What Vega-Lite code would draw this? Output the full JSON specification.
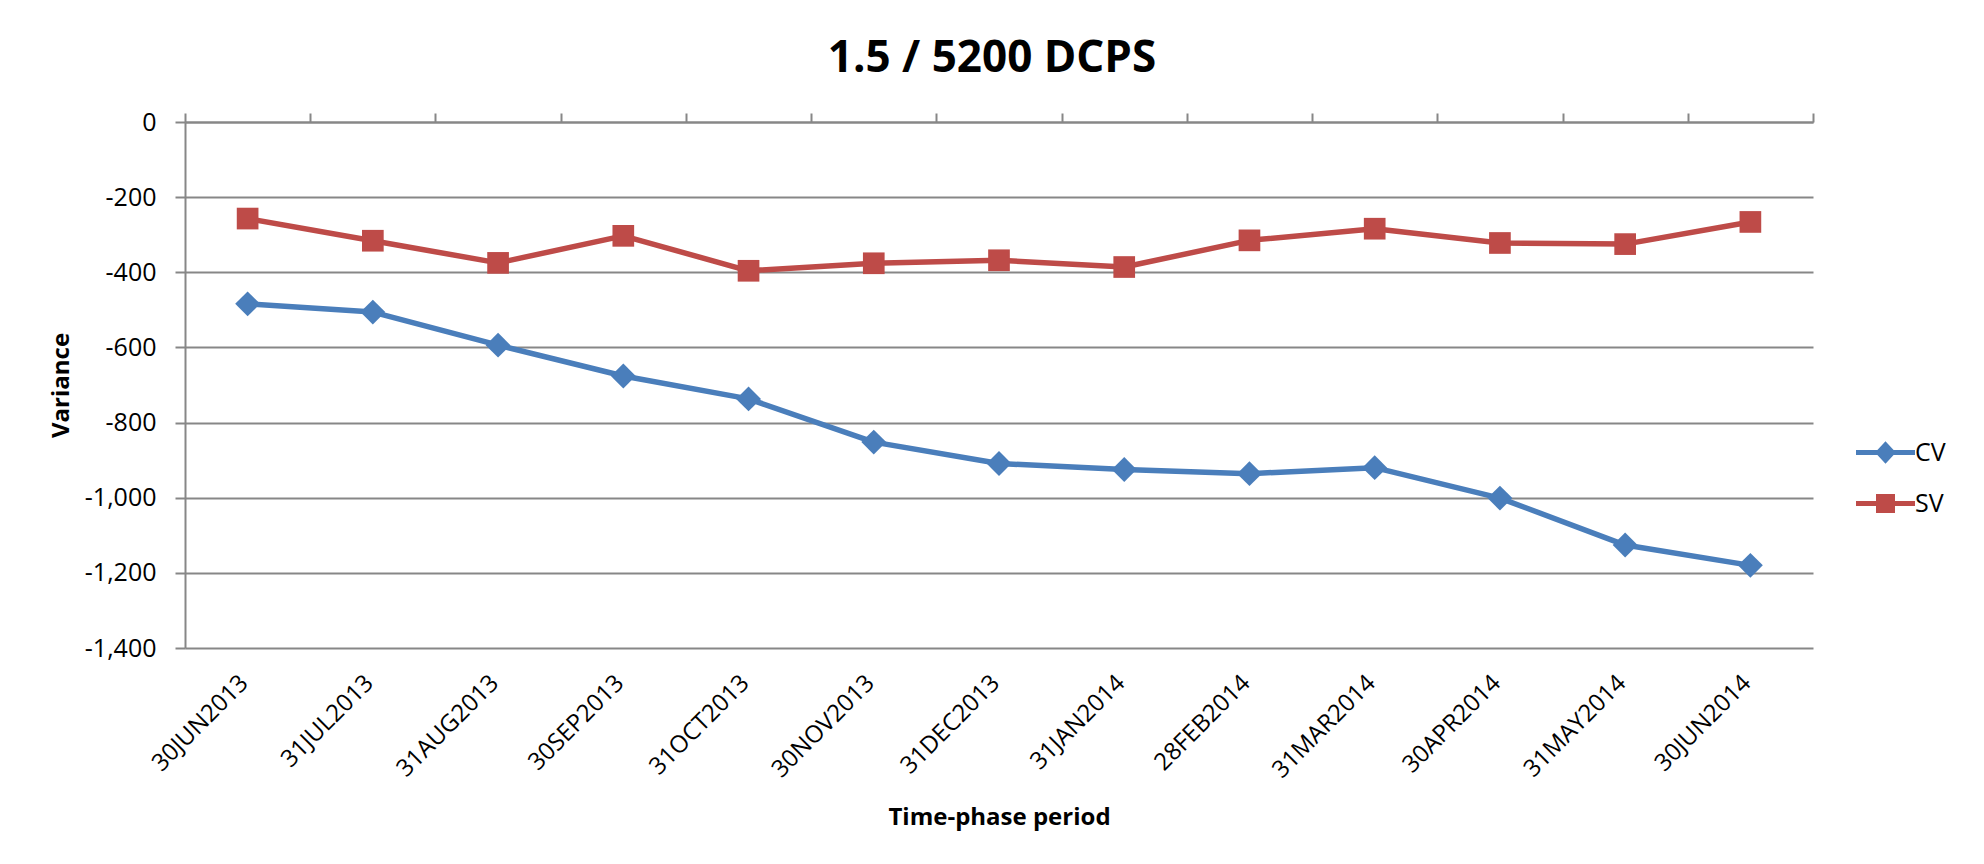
{
  "$schema": "https://vega.github.io/schema/vega-lite/v6.json",
  "width": 1628,
  "height": 526,
  "autosize": {"type": "none"},
  "padding": {"left": 185, "top": 122, "right": 171, "bottom": 216},
  "background": "white",
  "config": {"view": {"stroke": null}},
  "title": {"text": "1.5 / 5200 DCPS", "font": "Open Sans", "fontSize": 44, "fontWeight": "bold", "color": "#000000", "anchor": "middle", "dx": -7, "offset": -6, "baseline": "alphabetic"},
  "data": {"values": [
    {"period": "30JUN2013", "series": "CV", "value": -484},
    {"period": "31JUL2013", "series": "CV", "value": -506},
    {"period": "31AUG2013", "series": "CV", "value": -594},
    {"period": "30SEP2013", "series": "CV", "value": -676},
    {"period": "31OCT2013", "series": "CV", "value": -737},
    {"period": "30NOV2013", "series": "CV", "value": -852},
    {"period": "31DEC2013", "series": "CV", "value": -909},
    {"period": "31JAN2014", "series": "CV", "value": -925},
    {"period": "28FEB2014", "series": "CV", "value": -936},
    {"period": "31MAR2014", "series": "CV", "value": -920},
    {"period": "30APR2014", "series": "CV", "value": -1001},
    {"period": "31MAY2014", "series": "CV", "value": -1126},
    {"period": "30JUN2014", "series": "CV", "value": -1180},
    {"period": "30JUN2013", "series": "SV", "value": -257},
    {"period": "31JUL2013", "series": "SV", "value": -316},
    {"period": "31AUG2013", "series": "SV", "value": -375},
    {"period": "30SEP2013", "series": "SV", "value": -303},
    {"period": "31OCT2013", "series": "SV", "value": -396},
    {"period": "30NOV2013", "series": "SV", "value": -376},
    {"period": "31DEC2013", "series": "SV", "value": -368},
    {"period": "31JAN2014", "series": "SV", "value": -386},
    {"period": "28FEB2014", "series": "SV", "value": -315},
    {"period": "31MAR2014", "series": "SV", "value": -284},
    {"period": "30APR2014", "series": "SV", "value": -322},
    {"period": "31MAY2014", "series": "SV", "value": -325},
    {"period": "30JUN2014", "series": "SV", "value": -266}
  ]},
  "encoding": {
    "y": {
      "field": "value", "type": "quantitative",
      "scale": {"domain": [-1400, 0], "nice": false, "zero": false},
      "axis": {
        "values": [-1400, -1200, -1000, -800, -600, -400, -200, 0],
        "labelExpr": "replace(format(datum.value, ','), '\u2212', '-')",
        "grid": true, "gridColor": "#878787", "gridWidth": 2,
        "domain": true, "domainColor": "#878787", "domainWidth": 2,
        "ticks": true, "tickSize": 10, "tickColor": "#878787", "tickWidth": 2,
        "labelPadding": 19, "labelFont": "Open Sans", "labelFontSize": 25, "labelColor": "#000000",
        "title": "Variance", "titleFont": "Open Sans", "titleFontSize": 24, "titleFontWeight": "bold",
        "titleColor": "#000000", "titleX": -124, "titleBaseline": "middle"
      }
    }
  },
  "resolve": {"axis": {"x": "independent"}},
  "layer": [
    {
      "transform": [{"filter": "datum.series === 'CV'"}],
      "mark": {"type": "line", "color": "#4A7EBB", "strokeWidth": 5.5, "strokeJoin": "round"},
      "encoding": {
        "x": {
          "field": "period", "type": "ordinal",
          "sort": ["30JUN2013", "31JUL2013", "31AUG2013", "30SEP2013", "31OCT2013", "30NOV2013", "31DEC2013", "31JAN2014", "28FEB2014", "31MAR2014", "30APR2014", "31MAY2014", "30JUN2014"],
          "bandPosition": 0.5,
          "scale": {"type": "band", "paddingInner": 0, "paddingOuter": 0},
          "axis": {
            "orient": "bottom", "domain": false, "ticks": false, "grid": false,
            "labelAngle": -45, "labelAlign": "right", "labelBaseline": "middle",
            "labelPadding": 31, "labelOffset": -3,
            "labelFont": "Open Sans", "labelFontSize": 24, "labelColor": "#000000",
            "title": "Time-phase period", "titleFont": "Open Sans", "titleFontSize": 24,
            "titleFontWeight": "bold", "titleColor": "#000000", "titleY": 169, "titleBaseline": "middle"
          }
        }
      }
    },
    {
      "transform": [{"filter": "datum.series === 'SV'"}],
      "mark": {"type": "line", "color": "#BE4B48", "strokeWidth": 5.5, "strokeJoin": "round"},
      "encoding": {
        "x": {
          "field": "period", "type": "ordinal",
          "sort": ["30JUN2013", "31JUL2013", "31AUG2013", "30SEP2013", "31OCT2013", "30NOV2013", "31DEC2013", "31JAN2014", "28FEB2014", "31MAR2014", "30APR2014", "31MAY2014", "30JUN2014"],
          "bandPosition": 0.5,
          "axis": null
        }
      }
    },
    {
      "transform": [{"filter": "datum.series === 'CV'"}],
      "mark": {"type": "point", "shape": "diamond", "color": "#4A7EBB", "filled": true, "size": 620, "opacity": 1, "strokeWidth": 0},
      "encoding": {
        "x": {
          "field": "period", "type": "ordinal",
          "sort": ["30JUN2013", "31JUL2013", "31AUG2013", "30SEP2013", "31OCT2013", "30NOV2013", "31DEC2013", "31JAN2014", "28FEB2014", "31MAR2014", "30APR2014", "31MAY2014", "30JUN2014"],
          "bandPosition": 0.5,
          "axis": null
        }
      }
    },
    {
      "transform": [{"filter": "datum.series === 'SV'"}],
      "mark": {"type": "point", "shape": "square", "color": "#BE4B48", "filled": true, "size": 470, "opacity": 1, "strokeWidth": 0},
      "encoding": {
        "x": {
          "field": "period", "type": "ordinal",
          "sort": ["30JUN2013", "31JUL2013", "31AUG2013", "30SEP2013", "31OCT2013", "30NOV2013", "31DEC2013", "31JAN2014", "28FEB2014", "31MAR2014", "30APR2014", "31MAY2014", "30JUN2014"],
          "bandPosition": 0.5,
          "axis": null
        }
      }
    },
    {
      "mark": {"type": "point", "opacity": 0, "color": "#000000"},
      "encoding": {
        "x": {
          "field": "period", "type": "ordinal",
          "sort": ["30JUN2013", "31JUL2013", "31AUG2013", "30SEP2013", "31OCT2013", "30NOV2013", "31DEC2013", "31JAN2014", "28FEB2014", "31MAR2014", "30APR2014", "31MAY2014", "30JUN2014"],
          "bandPosition": 0.5,
          "axis": {
            "orient": "top", "labels": false, "title": null, "grid": false,
            "domain": true, "domainColor": "#878787", "domainWidth": 2,
            "ticks": true, "tickBand": "extent", "tickSize": 9, "tickColor": "#878787", "tickWidth": 2
          }
        }
      }
    },
    {
      "transform": [{"filter": "false"}],
      "mark": {"type": "point", "filled": true, "opacity": 1, "strokeWidth": 5, "size": 400},
      "encoding": {
        "fill": {
          "field": "series", "type": "nominal",
          "scale": {"domain": ["CV", "SV"], "range": ["#4A7EBB", "#BE4B48"]},
          "legend": {
            "orient": "none", "legendX": 1688, "legendY": 318, "padding": 0, "title": null,
            "labelFont": "Open Sans", "labelFontSize": 25, "labelColor": "#000000", "labelOffset": 17,
            "rowPadding": 16, "symbolSize": 400, "symbolStrokeWidth": 5, "symbolOpacity": 1
          }
        },
        "stroke": {
          "field": "series", "type": "nominal",
          "scale": {"domain": ["CV", "SV"], "range": ["#4A7EBB", "#BE4B48"]},
          "legend": {
            "orient": "none", "legendX": 1688, "legendY": 318, "padding": 0, "title": null,
            "labelFont": "Open Sans", "labelFontSize": 25, "labelColor": "#000000", "labelOffset": 17,
            "rowPadding": 16, "symbolSize": 400, "symbolStrokeWidth": 5, "symbolOpacity": 1
          }
        },
        "shape": {
          "field": "series", "type": "nominal",
          "scale": {"domain": ["CV", "SV"], "range": ["M-2.95,0H2.95M0,-0.75L0.7,0L0,0.75L-0.7,0Z", "M-2.95,0H2.95M-0.7,-0.7H0.7V0.7H-0.7Z"]},
          "legend": {
            "orient": "none", "legendX": 1688, "legendY": 318, "padding": 0, "title": null,
            "labelFont": "Open Sans", "labelFontSize": 25, "labelColor": "#000000", "labelOffset": 17,
            "rowPadding": 16, "symbolSize": 400, "symbolStrokeWidth": 5, "symbolOpacity": 1
          }
        }
      }
    }
  ]
}
